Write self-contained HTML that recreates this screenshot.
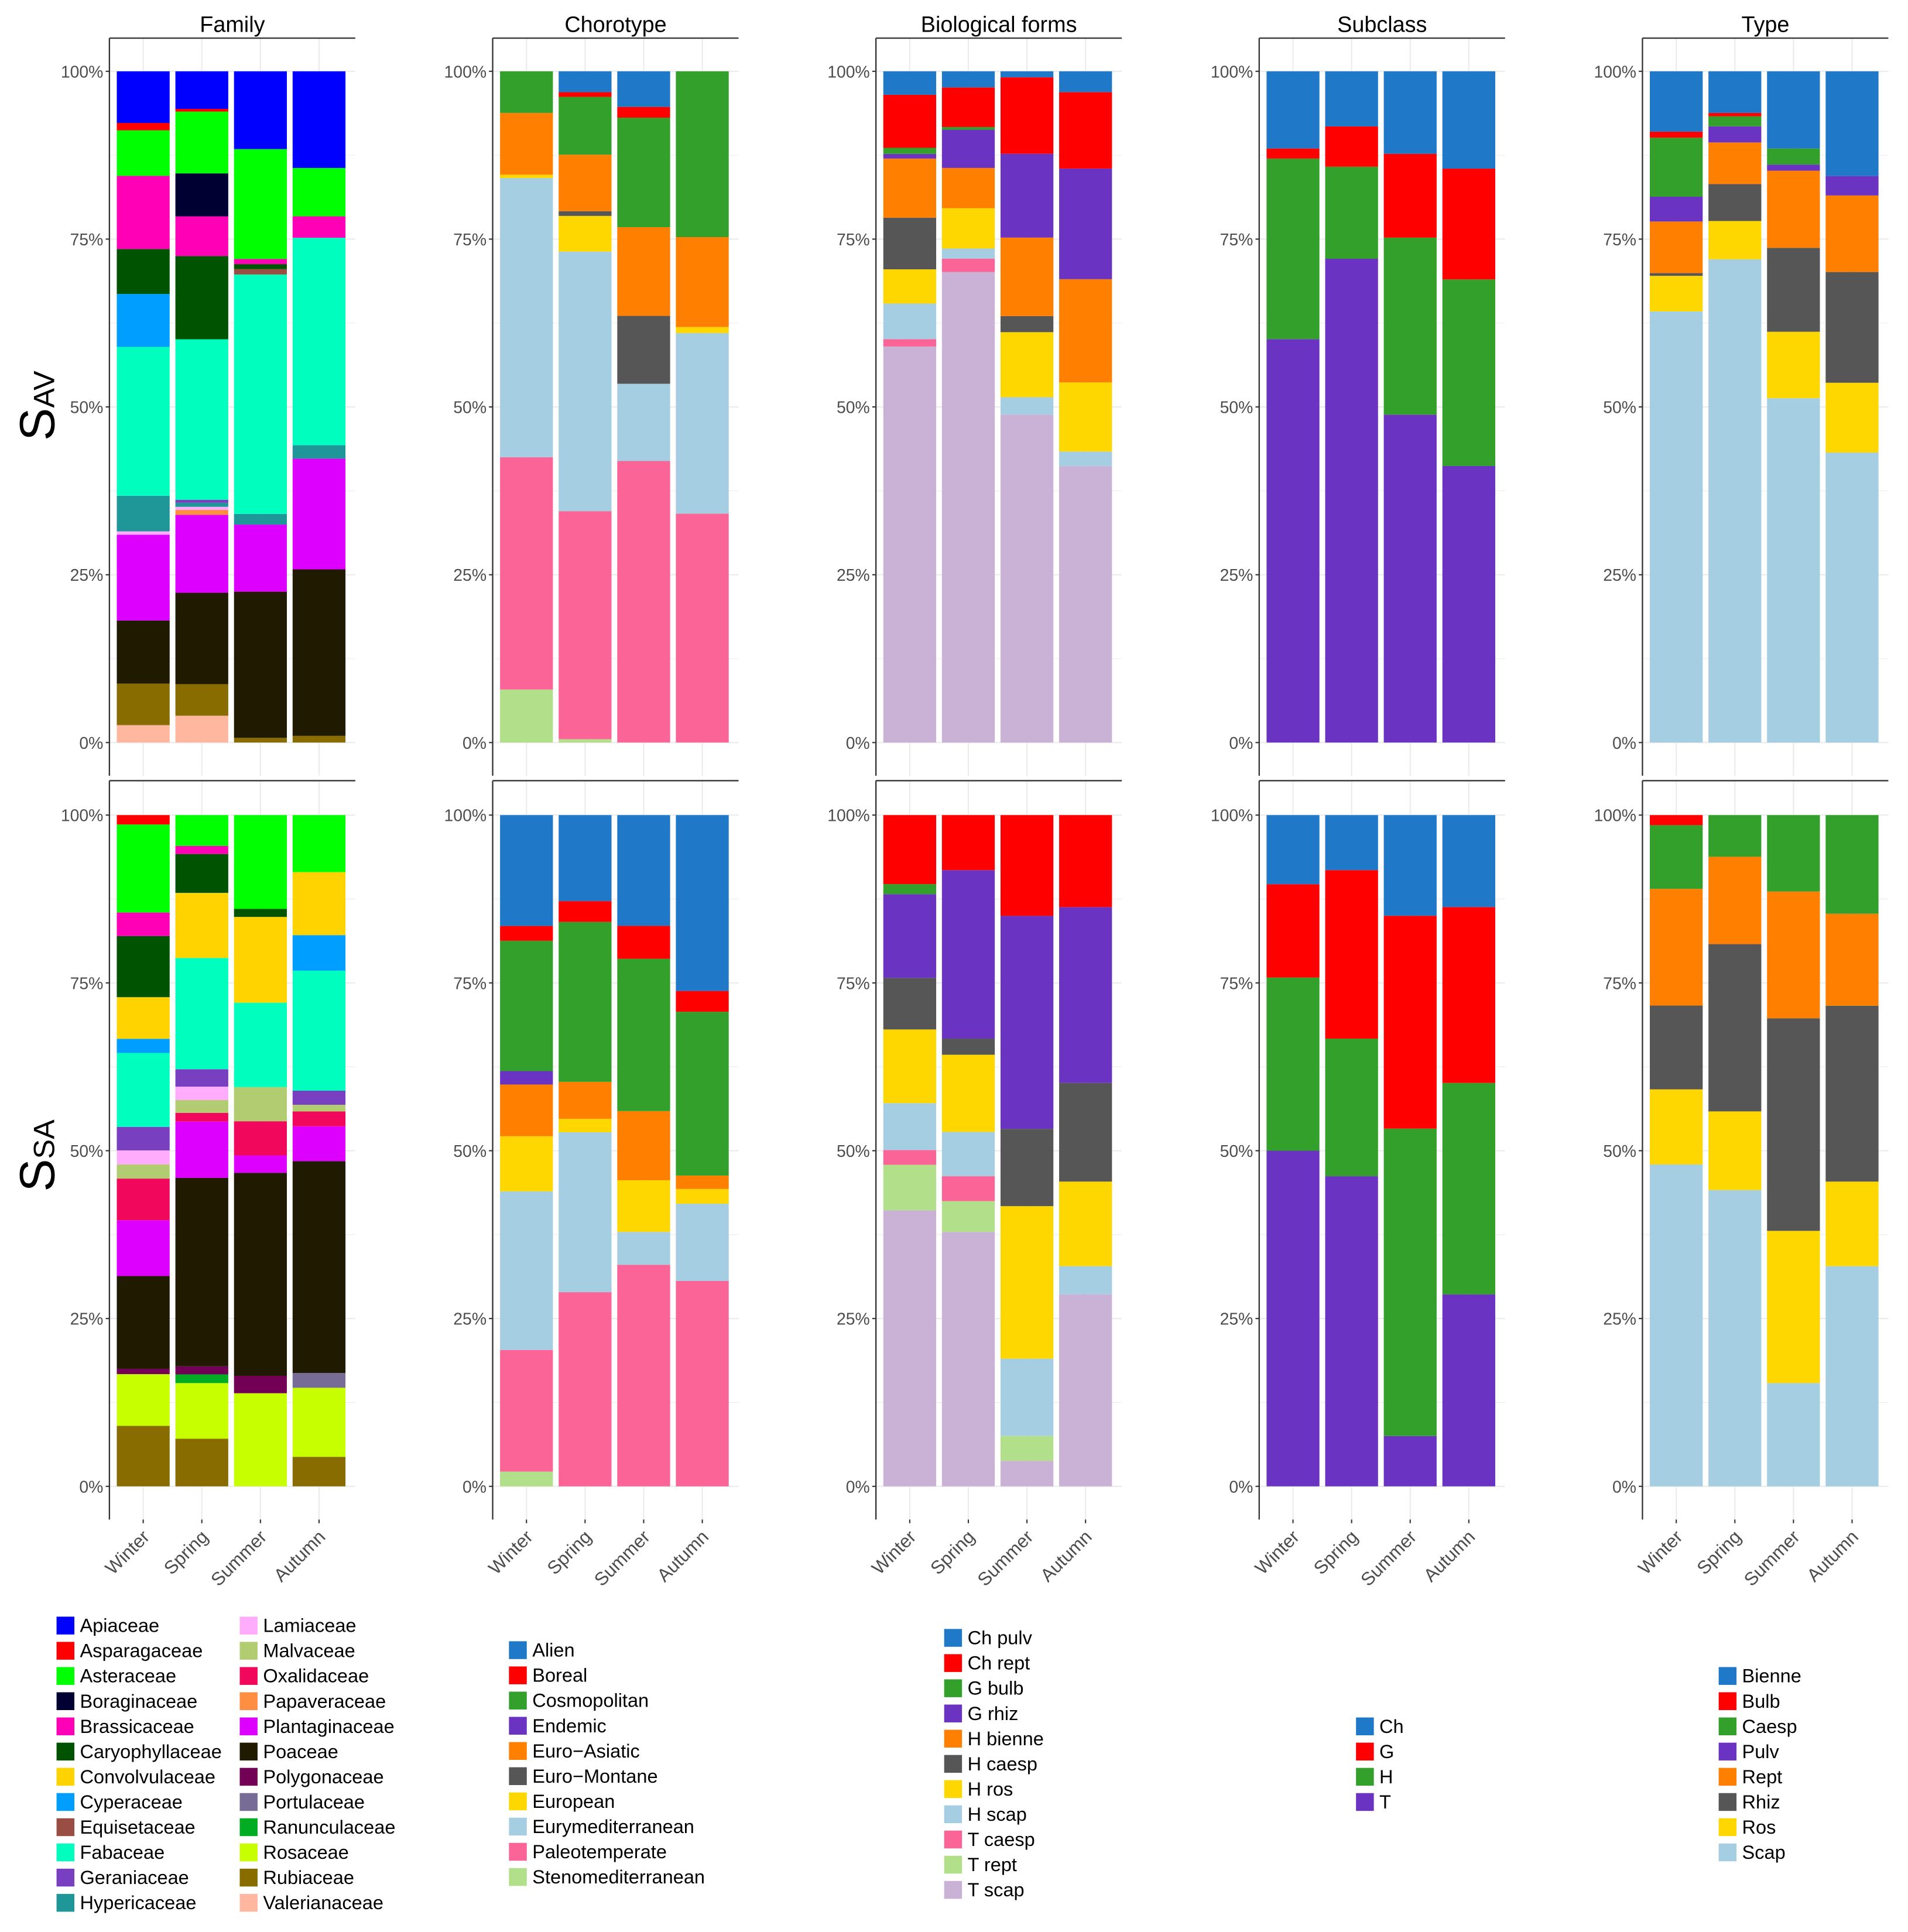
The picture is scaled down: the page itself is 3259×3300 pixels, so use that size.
<!DOCTYPE html>
<html><head><meta charset="utf-8">
<style>
html,body{margin:0;padding:0;background:#fff;}
svg{display:block;font-family:"Liberation Sans",sans-serif;}
</style></head>
<body>
<svg id="chart" width="3259" height="3300" viewBox="0 0 1552 1571.5" preserveAspectRatio="none" xmlns="http://www.w3.org/2000/svg"></svg>
<script>
const seasons = ["Winter","Spring","Summer","Autumn"];
const yTicks = [0,25,50,75,100];
const yTickLabels = ["0%","25%","50%","75%","100%"];
const rowLabels = ["AV","SA"];
const panelTitles = ["Family","Chorotype","Biological forms","Subclass","Type"];

// Family
const familyLevels = ["Apiaceae","Asparagaceae","Asteraceae","Boraginaceae","Brassicaceae","Caryophyllaceae","Convolvulaceae","Cyperaceae","Equisetaceae","Fabaceae","Geraniaceae","Hypericaceae","Lamiaceae","Malvaceae","Oxalidaceae","Papaveraceae","Plantaginaceae","Poaceae","Polygonaceae","Portulaceae","Ranunculaceae","Rosaceae","Rubiaceae","Valerianaceae"];
const familyColors = ["#0000FF","#FF0000","#00FF00","#000033","#FF00B6","#005300","#FFD300","#009FFF","#9A4D42","#00FFBE","#783FC1","#1F9698","#FFACFD","#B1CC71","#F1085C","#FE8F42","#DD00FF","#201A01","#720055","#766C95","#02AD24","#C8FF00","#886C00","#FFB79F"];
const familyAV = [
 [7.7,1.1,6.8,0,10.9,6.7,0,7.9,0,22.2,0,5.3,0.5,0,0,0,12.8,9.4,0,0,0,0,6.2,2.6],
 [5.6,0.4,9.2,6.4,5.9,12.4,0,0,0,23.9,0.45,0.6,0.45,0,0,0.75,11.6,13.6,0,0,0,0,4.7,4.0],
 [11.6,0,16.4,0,0.75,0.75,0,0,0.8,35.7,0,1.6,0,0,0,0,10.0,21.8,0,0,0,0,0.7,0],
 [14.4,0,7.2,0,3.2,0,0,0,0,30.9,0,2.0,0,0,0,0,16.5,24.8,0,0,0,0,1.0,0]];
const familySA = [
 [0,1.4,13.1,0,3.5,9.1,6.2,2.1,0,11.0,3.5,0,2.1,2.1,6.2,0,8.3,13.8,0.8,0,0,7.7,9.0,0],
 [0,0,4.6,0,1.2,5.8,9.7,0,0,16.6,2.6,0,2.0,1.9,1.3,0,8.4,28.1,1.2,0,1.3,8.3,7.1,0],
 [0,0,14.0,0,0,1.2,12.8,0,0,12.6,0,0,0,5.1,5.1,0,2.6,30.3,2.6,0,0,13.9,0,0],
 [0,0,8.5,0,0,0,9.4,5.3,0,17.9,2.1,0,0,1.0,2.2,0,5.2,31.6,0,2.2,0,10.3,4.4,0]];

// Chorotype
const choroLevels = ["Alien","Boreal","Cosmopolitan","Endemic","Euro\u2212Asiatic","Euro\u2212Montane","European","Eurymediterranean","Paleotemperate","Stenomediterranean"];
const choroColors = ["#1F78C8","#FF0000","#33A02C","#6A33C2","#FF7F00","#565656","#FFD700","#A6CEE3","#FB6496","#B2DF8A"];
const choroAV = [
 [0,0,6.2,0,9.2,0,0.5,41.6,34.6,7.9],
 [3.1,0.7,8.6,0,8.4,0.7,5.3,38.6,33.9,0.5],
 [5.3,1.6,16.3,0,13.2,10.1,0,11.5,41.9,0],
 [0,0,24.7,0,13.4,0,0.9,26.9,34.1,0]];
const choroSA = [
 [16.5,2.2,19.4,2.0,7.7,0,8.2,23.6,18.1,2.2],
 [12.8,3.1,23.8,0,5.5,0,2.0,23.8,28.9,0],
 [16.5,4.9,22.7,0,10.3,0,7.7,4.9,33.0,0],
 [26.2,3.1,24.4,0,2.0,0,2.2,11.5,30.6,0]];

// Biological forms
const bioLevels = ["Ch pulv","Ch rept","G bulb","G rhiz","H bienne","H caesp","H ros","H scap","T caesp","T rept","T scap"];
const bioColors = ["#1F78C8","#FF0000","#33A02C","#6A33C2","#FF7F00","#565656","#FFD700","#A6CEE3","#FB6496","#B2DF8A","#CAB2D6"];
const bioAV = [
 [3.5,7.9,0.9,0.7,8.8,7.7,5.1,5.3,1.1,0,59],
 [2.4,5.9,0.4,5.7,6.0,0,6.0,1.5,2.0,0,70.1],
 [0.9,11.4,0,12.5,11.7,2.4,9.7,2.6,0,0,48.9],
 [3.1,11.4,0,16.5,15.4,0,10.3,2.2,0,0,41.2]];
const bioSA = [
 [0,10.3,1.5,12.5,0,7.7,11.0,7.0,2.2,6.8,41.2],
 [0,8.2,0,25.1,0,2.4,11.5,6.6,3.7,4.6,37.9],
 [0,15.0,0,31.7,0,11.5,22.7,11.5,0,3.7,3.8],
 [0,13.7,0,26.2,0,14.7,12.6,4.2,0,0,28.6]];

// Subclass
const subLevels = ["Ch","G","H","T"];
const subColors = ["#1F78C8","#FF0000","#33A02C","#6A33C2"];
const subAV = [[11.5,1.5,26.9,60.1],[8.2,6.0,13.7,72],[12.3,12.5,26.4,48.9],[14.5,16.5,27.8,41.2]];
const subSA = [[10.3,13.9,25.8,50],[8.2,25.1,20.5,46.2],[15.0,31.7,45.8,7.5],[13.7,26.2,31.5,28.6]];

// Type
const typeLevels = ["Bienne","Bulb","Caesp","Pulv","Rept","Rhiz","Ros","Scap"];
const typeColors = ["#1F78C8","#FF0000","#33A02C","#6A33C2","#FF7F00","#565656","#FFD700","#A6CEE3"];
const typeAV = [
 [9.0,0.9,8.8,3.7,7.7,0.4,5.3,64.3],
 [6.2,0.5,1.5,2.4,6.2,5.5,5.7,72],
 [11.5,0,2.4,0.9,11.5,12.5,9.9,51.3],
 [15.6,0,0,2.9,11.4,16.5,10.4,43.2]];
const typeSA = [
 [0,1.5,9.5,0,17.4,12.5,11.2,48],
 [0,0,6.2,0,13.0,24.9,11.7,44.1],
 [0,0,11.4,0,18.9,31.7,22.7,15.4],
 [0,0,14.7,0,13.7,26.2,12.6,32.8]];

const panels = [
 {key:"family",levels:familyLevels,colors:familyColors,rows:[familyAV,familySA]},
 {key:"chorotype",levels:choroLevels,colors:choroColors,rows:[choroAV,choroSA]},
 {key:"biological-forms",levels:bioLevels,colors:bioColors,rows:[bioAV,bioSA]},
 {key:"subclass",levels:subLevels,colors:subColors,rows:[subAV,subSA]},
 {key:"type",levels:typeLevels,colors:typeColors,rows:[typeAV,typeSA]}
];

const NS="http://www.w3.org/2000/svg";
const svg=document.getElementById("chart");
function mk(tag,attrs,parent){const e=document.createElementNS(NS,tag);for(const k in attrs)e.setAttribute(k,attrs[k]);(parent||svg).appendChild(e);return e;}

const panelX0=89, panelStep=311.75, panelW=200;
const rowTop=[31,635], rowY100=[58,663], rowY0=[604,1209], rowBottom=[631,1236];
function yScale(row,p){return rowY0[row]-(rowY0[row]-rowY100[row])*p/100;}
function xCenter(px,i){return px+27.5+i*47.67;}
const barW=43;

const legendPos=[
 {cols:[[46,1322],[195,1322]],perCol:12},
 {cols:[[414,1342]],perCol:10},
 {cols:[[768,1332]],perCol:11},
 {cols:[[1103,1404]],perCol:4},
 {cols:[[1398,1363]],perCol:8}
];

panels.forEach((pan,pi)=>{
  const px=panelX0+pi*panelStep;
  const t=mk("text",{x:px+panelW/2,y:26,"text-anchor":"middle","font-size":18,fill:"#000"});
  t.textContent=panelTitles[pi];
  
  
  for(let r=0;r<2;r++){
    const g=mk("g",{});
    
    
    for(let k=0;k<=8;k++){
      const y=yScale(r,k*12.5);
      mk("line",{x1:px,x2:px+panelW,y1:y,y2:y,stroke:"#ebebeb","stroke-width":k%2?0.5:1},g);
    }
    for(let i=0;i<4;i++){const x=xCenter(px,i);mk("line",{x1:x,x2:x,y1:rowTop[r],y2:rowBottom[r],stroke:"#ebebeb","stroke-width":1},g);}
    const data=pan.rows[r];
    data.forEach((vals,ci)=>{
      const sum=vals.reduce((a,b)=>a+b,0);
      let cum=0;
      for(let li=pan.levels.length-1;li>=0;li--){
        const v=vals[li];if(!v)continue;
        const p0=cum/sum*100;cum+=v;const p1=cum/sum*100;
        const y1=yScale(r,p1),y0=yScale(r,p0);
        const rect=mk("rect",{x:xCenter(px,ci)-barW/2,y:y1,width:barW,height:y0-y1,fill:pan.colors[li]},g);
        
        
      }
    });
    mk("line",{x1:px,x2:px,y1:rowTop[r],y2:rowBottom[r],stroke:"#333","stroke-width":1.1},g);
    mk("line",{x1:px,x2:px+panelW,y1:rowTop[r],y2:rowTop[r],stroke:"#333","stroke-width":1.1},g);
    yTicks.forEach((v,k)=>{
      const y=yScale(r,v);
      mk("line",{x1:px-3,x2:px,y1:y,y2:y,stroke:"#333","stroke-width":1},g);
      const tl=mk("text",{x:px-5,y:y+5,"text-anchor":"end","font-size":13.5,fill:"#4d4d4d"},g);
      tl.textContent=yTickLabels[k];
      
      
    });
    if(r===1){
      seasons.forEach((s,i)=>{
        const x=xCenter(px,i);
        mk("line",{x1:x,x2:x,y1:rowBottom[r],y2:rowBottom[r]+3,stroke:"#333","stroke-width":1},g);
        const ax=x+6, ay=rowBottom[r]+15;
        const xl=mk("text",{x:ax,y:ay,"text-anchor":"end","font-size":15,fill:"#4d4d4d",transform:`rotate(-45 ${ax} ${ay})`},g);
        xl.textContent=s;
        
        
      });
    }
  }
  const lp=legendPos[pi];
  pan.levels.forEach((lv,li)=>{
    const c=Math.floor(li/lp.perCol), k=li%lp.perCol;
    const [lx,ly]=lp.cols[c];
    const y=ly+k*20.5;
    const lg=mk("g",{});
    
    
    mk("rect",{x:lx,y:y-7,width:14.5,height:14.5,fill:pan.colors[li]},lg);
    const tx=mk("text",{x:lx+19,y:y+5.5,"font-size":15.5,fill:"#000"},lg);
    tx.textContent=lv;
  });
});

[330,940].forEach((cy,r)=>{
  const tt=mk("text",{x:0,y:0,transform:`translate(44 ${cy}) rotate(-90)`,"text-anchor":"middle",fill:"#000"});
  
  
  const s1=mk("tspan",{"font-size":40},tt);s1.textContent="S";
  const s2=mk("tspan",{"font-size":24,dy:0},tt);s2.textContent=rowLabels[r];
});
</script>
</body></html>
